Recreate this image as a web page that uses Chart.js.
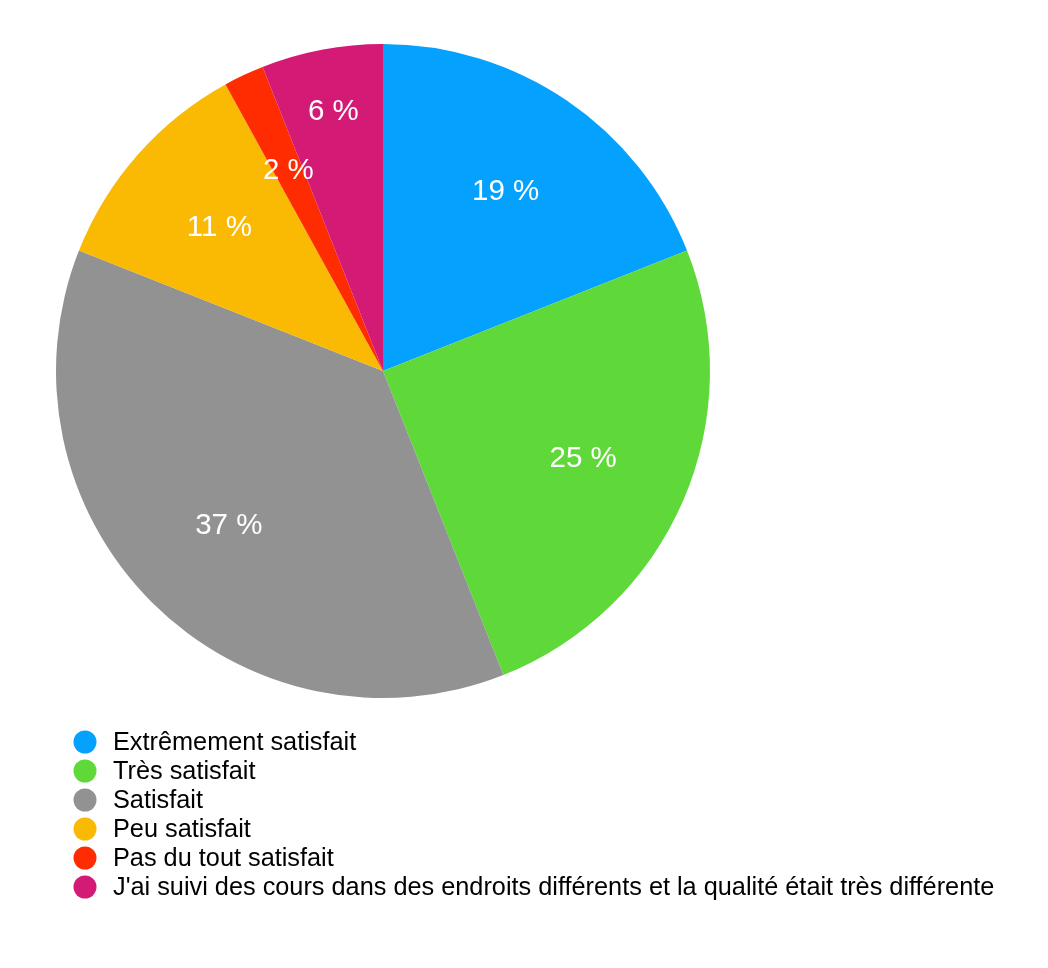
<!DOCTYPE html>
<html>
<head>
<meta charset="utf-8">
<script src="https://cdn.jsdelivr.net/npm/chart.js@4/dist/chart.umd.min.js"></script>
<style>
  html, body { margin: 0; padding: 0; background: #fff; }
  #wrap { width: 1048px; height: 968px; position: relative; }
</style>
</head>
<body>
<div id="wrap"><canvas id="pie" width="1048" height="968"></canvas></div>
<script>
// Categories and values (percent of answers)
const categories = [
    'Extrêmement satisfait',
    'Très satisfait',
    'Satisfait',
    'Peu satisfait',
    'Pas du tout satisfait',
    "J'ai suivi des cours dans des endroits différents et la qualité était très différente"
];
const values = [19, 25, 37, 11, 2, 6];
const sliceColors = ['#04a2fe', '#5fd83a', '#929292', '#fab902', '#fe2c00', '#d31b76'];

// how far out each percent label sits (fraction of radius)
const labelRadius = [0.667, 0.667, 0.667, 0.667, 0.68, 0.81];

// Percent labels inside slices
const sliceLabels = {
    id: 'sliceLabels',
    afterDatasetsDraw(chart) {
        const ctx = chart.ctx;
        const meta = chart.getDatasetMeta(0);
        const total = values.reduce((a, b) => a + b, 0);
        ctx.save();
        ctx.fillStyle = '#ffffff';
        ctx.font = '29.5px "Liberation Sans", Arial, sans-serif';
        ctx.textAlign = 'center';
        ctx.textBaseline = 'middle';
        meta.data.forEach(function(arc, i) {
            const p = arc.getProps(['x', 'y', 'startAngle', 'endAngle', 'outerRadius'], true);
            const mid = (p.startAngle + p.endAngle) / 2;
            const r = p.outerRadius * labelRadius[i];
            const pct = Math.round(values[i] / total * 100);
            ctx.fillText(pct + ' %', p.x + Math.cos(mid) * r, p.y + Math.sin(mid) * r + 1);
        });
        ctx.restore();
    }
};

// Legend drawn below the pie, one item per row
const listLegend = {
    id: 'listLegend',
    afterDraw(chart) {
        const ctx = chart.ctx;
        const top = 742, step = 29;
        ctx.save();
        ctx.font = '25.3px "Liberation Sans", Arial, sans-serif';
        ctx.textBaseline = 'middle';
        ctx.textAlign = 'left';
        chart.data.labels.forEach(function(label, i) {
            const y = top + i * step;
            ctx.beginPath();
            ctx.arc(85, y, 11.5, 0, Math.PI * 2);
            ctx.fillStyle = chart.data.datasets[0].backgroundColor[i];
            ctx.fill();
            ctx.fillStyle = '#000000';
            ctx.fillText(label, 113, y + 1);
        });
        ctx.restore();
    }
};

new Chart(document.getElementById('pie'), {
    type: 'pie',
    data: {
        labels: categories,
        datasets: [{
            data: values,
            backgroundColor: sliceColors,
            borderWidth: 0
        }]
    },
    options: {
        responsive: false,
        animation: false,
        layout: { padding: { left: 56, top: 44, right: 338, bottom: 270 } },
        plugins: {
            legend: { display: false },
            tooltip: { enabled: false }
        }
    },
    plugins: [sliceLabels, listLegend]
});
</script>
</body>
</html>
